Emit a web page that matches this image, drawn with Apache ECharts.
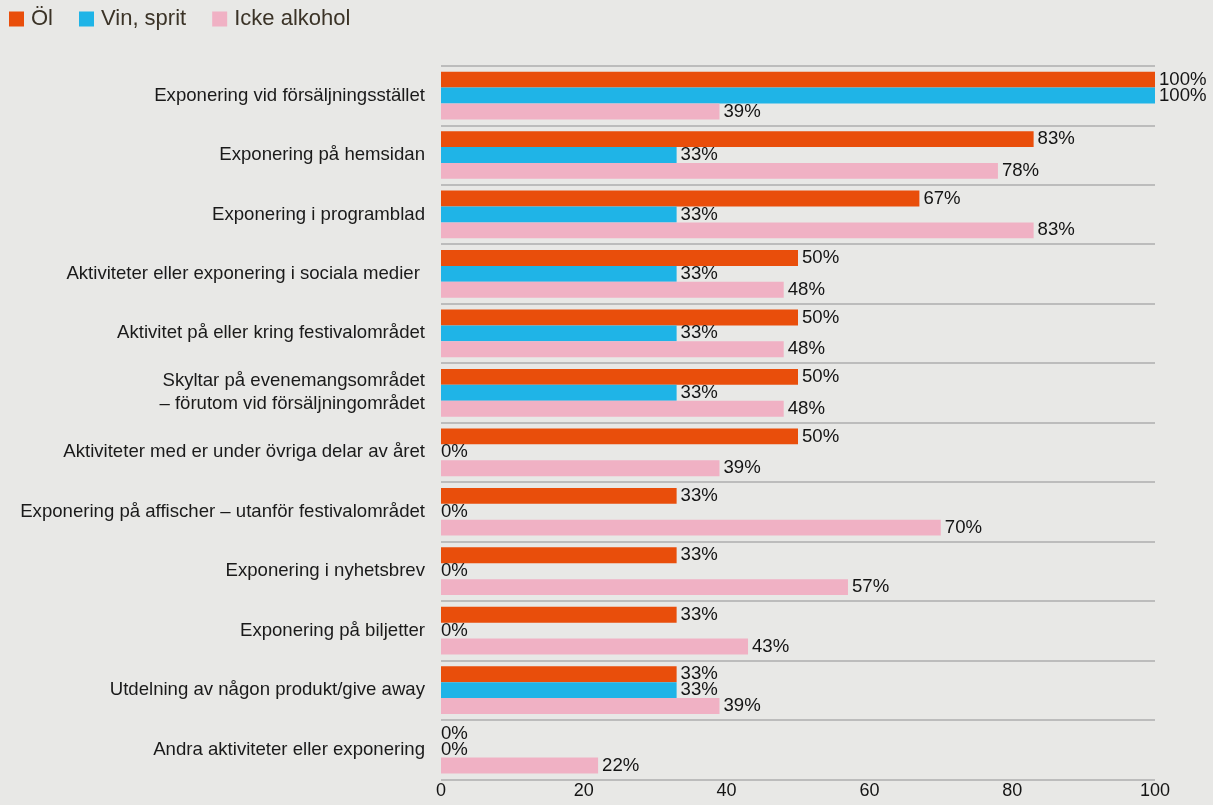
<!DOCTYPE html>
<html>
<head>
<meta charset="utf-8">
<script src="https://cdn.jsdelivr.net/npm/echarts@6/dist/echarts.min.js"></script>
<style>
  html, body { margin: 0; padding: 0; background: #e8e8e6; }
  #chart { width: 1213px; height: 805px; }
</style>
</head>
<body>
<div id="chart"></div>
<script>
// Kategorier (uppifrån och ned)
const categories = [
  'Exponering vid försäljningsstället',
  'Exponering på hemsidan',
  'Exponering i programblad',
  'Aktiviteter eller exponering i sociala medier ',
  'Aktivitet på eller kring festivalområdet',
  'Skyltar på evenemangsområdet\n– förutom vid försäljningområdet',
  'Aktiviteter med er under övriga delar av året',
  'Exponering på affischer – utanför festivalområdet',
  'Exponering i nyhetsbrev',
  'Exponering på biljetter',
  'Utdelning av någon produkt/give away',
  'Andra aktiviteter eller exponering'
];

// Andel (%) per dryckeskategori
const seriesNames = ['Öl', 'Vin, sprit', 'Icke alkohol'];
const ol          = [100, 83, 67, 50, 50, 50, 50, 33, 33, 33, 33, 0];
const vinSprit    = [100, 33, 33, 33, 33, 33, 0, 0, 0, 0, 33, 0];
const ickeAlkohol = [39, 78, 83, 48, 48, 48, 39, 70, 57, 43, 39, 22];

const xTicks = { min: 0, max: 100, interval: 20 };

const colors = ['#e94e0b', '#1fb4e7', '#f0b1c4'];
const FONT = '"Liberation Sans", Arial, Helvetica, sans-serif';

function barSeries(name, values, color) {
  // nollvärden får sin etikett direkt vid axeln
  const data = values.map(v => v === 0 ? { value: v, label: { distance: 0 } } : v);
  return {
    name: name,
    type: 'bar',
    data: data,
    barWidth: 15.9,
    barGap: '0%',
    itemStyle: { color: color },
    label: {
      show: true,
      position: 'right',
      distance: 4,
      formatter: '{c}%',
      color: '#141414',
      fontFamily: FONT,
      fontSize: 18.6
    },
    emphasis: { disabled: true }
  };
}

const chart = echarts.init(document.getElementById('chart'), null, { renderer: 'canvas' });
chart.setOption({
  backgroundColor: '#e8e8e6',
  animation: false,
  color: colors,
  legend: {
    left: 9,
    top: 8,
    padding: 0,
    itemWidth: 15,
    itemHeight: 15,
    itemGap: 26,
    icon: 'rect',
    textStyle: {
      color: '#3b3327',
      fontFamily: FONT,
      fontSize: 22,
      padding: [0, 0, 0, 2]
    },
    data: seriesNames
  },
  grid: {
    left: 441,
    right: 58,
    top: 65.8,
    bottom: 25.7
  },
  xAxis: {
    type: 'value',
    min: xTicks.min,
    max: xTicks.max,
    interval: xTicks.interval,
    axisLine: { show: false },
    axisTick: { show: false },
    splitLine: { show: false },
    axisLabel: {
      color: '#141414',
      fontFamily: FONT,
      fontSize: 18,
      margin: 3
    }
  },
  yAxis: {
    type: 'category',
    inverse: true,
    data: categories,
    axisLine: { show: false },
    axisTick: { show: false },
    splitLine: {
      show: true,
      lineStyle: { color: '#bcbcbc', width: 2 }
    },
    axisLabel: {
      color: '#1a1a1a',
      fontFamily: FONT,
      fontSize: 18.6,
      lineHeight: 23,
      margin: 16,
      align: 'right'
    }
  },
  series: [
    barSeries(seriesNames[0], ol, colors[0]),
    barSeries(seriesNames[1], vinSprit, colors[1]),
    barSeries(seriesNames[2], ickeAlkohol, colors[2])
  ]
});
</script>
</body>
</html>
